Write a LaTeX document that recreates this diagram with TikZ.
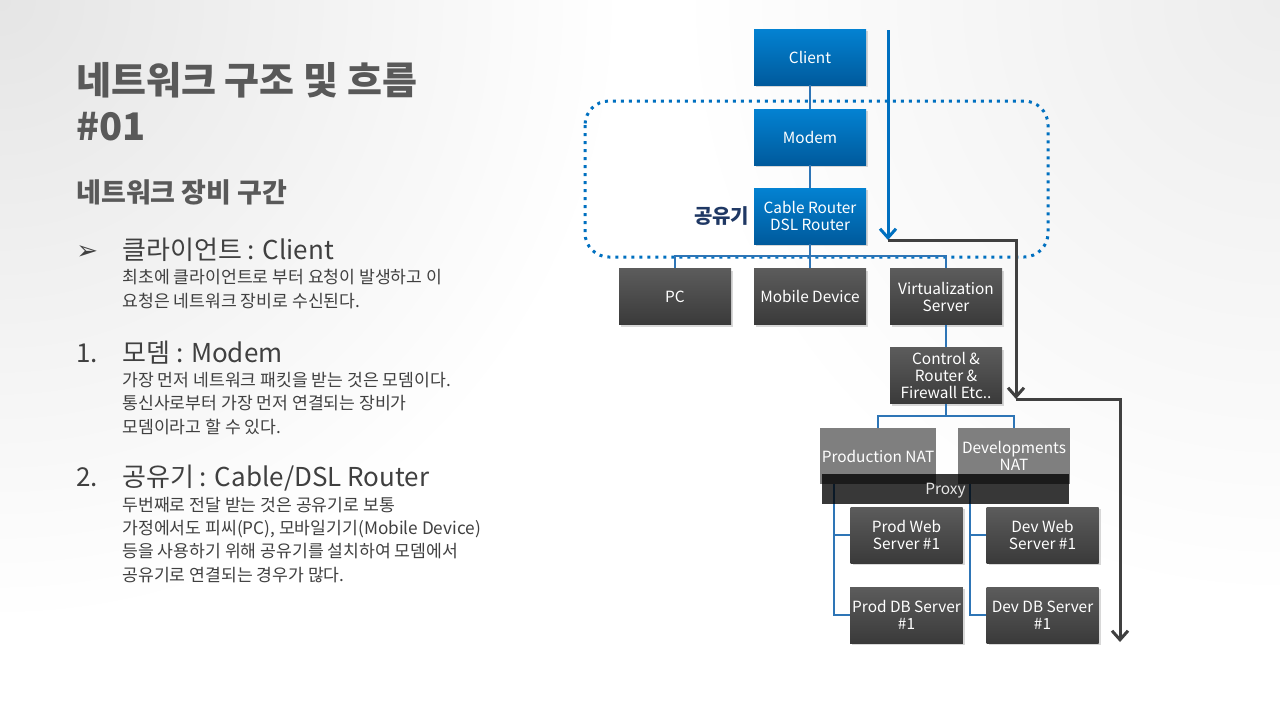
\documentclass[tikz,border=0pt]{standalone}
\usepackage{fontspec}
\setmainfont{Noto Sans CJK KR}
\newfontfamily\symfont{DejaVu Sans}
\usetikzlibrary{positioning,arrows.meta,shadows,fadings}

\definecolor{boxblue}{HTML}{0382D2}
\definecolor{boxblueb}{HTML}{005A9C}
\definecolor{boxgray}{HTML}{5C5C5C}
\definecolor{boxgrayb}{HTML}{3A3A3A}
\definecolor{natgray}{HTML}{7F7F7F}
\definecolor{linkblue}{HTML}{2E75B6}
\definecolor{flowblue}{HTML}{0070C0}
\definecolor{flowdark}{HTML}{404040}
\definecolor{titlegray}{HTML}{595959}
\definecolor{textgray}{HTML}{404040}
\definecolor{labelblue}{HTML}{1F3864}

\tikzfading[name=cornerfade, inner color=transparent!0, outer color=transparent!100]

\tikzset{
    devbox/.style={minimum width=56pt, minimum height=28pt, inner sep=1pt, align=center,
        text=white, font=\fontsize{7.7}{8.5}\selectfont},
    shadowed/.style={devbox, drop shadow={shadow xshift=1pt, shadow yshift=-1pt, opacity=0.3}},
    bluedev/.style={shadowed, top color=boxblue, bottom color=boxblueb},
    graydev/.style={shadowed, top color=boxgray, bottom color=boxgrayb},
    natdev/.style={devbox, fill=natgray},
    link/.style={draw=linkblue, line width=0.6pt},
    flow/.style={line width=1.5pt, -{Straight Barb[length=4.5pt,width=8pt,line width=1.5pt]}},
    heading/.style={anchor=base west, inner sep=0pt, text=textgray, font=\fontsize{13}{13}\selectfont},
    body/.style={anchor=base west, inner sep=0pt, align=left, text=textgray, font=\fontsize{8.6}{11.6}\selectfont}
}

\begin{document}
\begin{tikzpicture}[x=0.5pt, y=-0.5pt]
    % Background
    \useasboundingbox (0,0) rectangle (1280,720);
    \fill[white] (0,0) rectangle (1280,720);
    \begin{scope}
        \clip (0,0) rectangle (1280,720);
        \fill[black, opacity=0.10, path fading=cornerfade] (0,0) circle (620);
        \fill[black, opacity=0.07, path fading=cornerfade] (1280,0) circle (600);
    \end{scope}

    % Title and text (multi-line nodes sit on their last baseline)
    \node[anchor=base west, inner sep=0pt, align=left, text=titlegray,
        font=\bfseries\fontsize{19}{23}\selectfont] (title) at (76,140) {네트워크 구조 및 흐름\\\#01};
    \node[anchor=base west, inner sep=0pt, text=titlegray,
        font=\bfseries\fontsize{13.5}{13.5}\selectfont] (subtitle) at (76,202) {네트워크 장비 구간};

    \node[anchor=base west, inner sep=0pt, text=textgray, font=\symfont\fontsize{13}{13}\selectfont] (mark0) at (76,259) {➢};
    \node[heading] (head0) at (122,259) {클라이언트 : Client};
    \node[body] (text0) at (122,307) {최초에 클라이언트로 부터 요청이 발생하고 이\\요청은 네트워크 장비로 수신된다.};

    \node[heading] (mark1) at (76,362) {1.};
    \node[heading] (head1) at (122,362) {모뎀 : Modem};
    \node[body] (text1) at (122,433) {가장 먼저 네트워크 패킷을 받는 것은 모뎀이다.\\통신사로부터 가장 먼저 연결되는 장비가\\모뎀이라고 할 수 있다.};

    \node[heading] (mark2) at (76,486) {2.};
    \node[heading] (head2) at (122,486) {공유기 : Cable/DSL Router};
    \node[body] (text2) at (122,581) {두번째로 전달 받는 것은 공유기로 보통\\가정에서도 피씨(PC), 모바일기기(Mobile Device)\\등을 사용하기 위해 공유기를 설치하여 모뎀에서\\공유기로 연결되는 경우가 많다.};

    % Router zone
    \draw[flowblue, line width=1.5pt, dash pattern=on 1.5pt off 2.5pt, rounded corners=12pt]
        (585,101) rectangle (1048,257);

    % Devices
    \node[bluedev] (client) at (810,57) {Client};
    \node[bluedev] (modem) at (810,137) {Modem};
    \node[bluedev] (router) at (810,216) {Cable Router\\DSL Router};
    \node[anchor=east, inner sep=2pt, text=labelblue, font=\bfseries\fontsize{10}{10}\selectfont]
        (zone) at (router.west) {공유기};

    \node[graydev] (pc) at (675,296.5) {PC};
    \node[graydev] (mobile) at (810,296.5) {Mobile Device};
    \node[graydev] (virt) at (946,296.5) {Virtualization\\Server};
    \node[graydev] (control) at (946,375.5) {Control \&\\Router \&\\Firewall Etc..};

    \node[natdev] (prodnat) at (878,456) {Production NAT};
    \node[natdev] (devnat) at (1014,456) {Developments\\NAT};

    \node[graydev] (prodweb) at (906.5,535) {Prod Web\\Server \#1};
    \node[graydev] (devweb) at (1042.5,535) {Dev Web\\Server \#1};
    \node[graydev] (proddb) at (906.5,615) {Prod DB Server\\\#1};
    \node[graydev] (devdb) at (1042.5,615) {Dev DB Server\\\#1};

    % Links
    \coordinate (lanbus) at (810,256);
    \coordinate (natbus) at (946,416);
    \coordinate (prodtap) at (834,484);
    \coordinate (devtap) at (970,484);
    \draw[link] (client) -- (modem);
    \draw[link] (modem) -- (router);
    \draw[link] (router) -- (mobile);
    \draw[link] (pc.north) |- (lanbus) -| (virt.north);
    \draw[link] (virt) -- (control);
    \draw[link] (control) -- (natbus);
    \draw[link] (prodnat.north) |- (natbus) -| (devnat.north);
    \draw[link] (prodtap) |- (proddb.west);
    \draw[link] (prodtap |- prodweb.west) -- (prodweb.west);
    \draw[link] (devtap) |- (devdb.west);
    \draw[link] (devtap |- devweb.west) -- (devweb.west);

    % Proxy
    \node[devbox, minimum width=123.5pt, minimum height=15pt, fill=black, fill opacity=0.78,
        text opacity=1, text=white!90!black, text depth=0pt] (proxy) at (945.5,489) {Proxy};

    % Flow
    \coordinate (flowstart) at (888,30);
    \coordinate (flowin) at (888,240);
    \coordinate (flowmid) at (1016,399);
    \coordinate (flowend) at (1120,642);
    \draw[flow, flowblue] (flowstart) -- (flowin);
    \draw[flow, flowdark] (flowin) -| (flowmid);
    \draw[flow, flowdark] (flowmid) -| (flowend);
\end{tikzpicture}
\end{document}
